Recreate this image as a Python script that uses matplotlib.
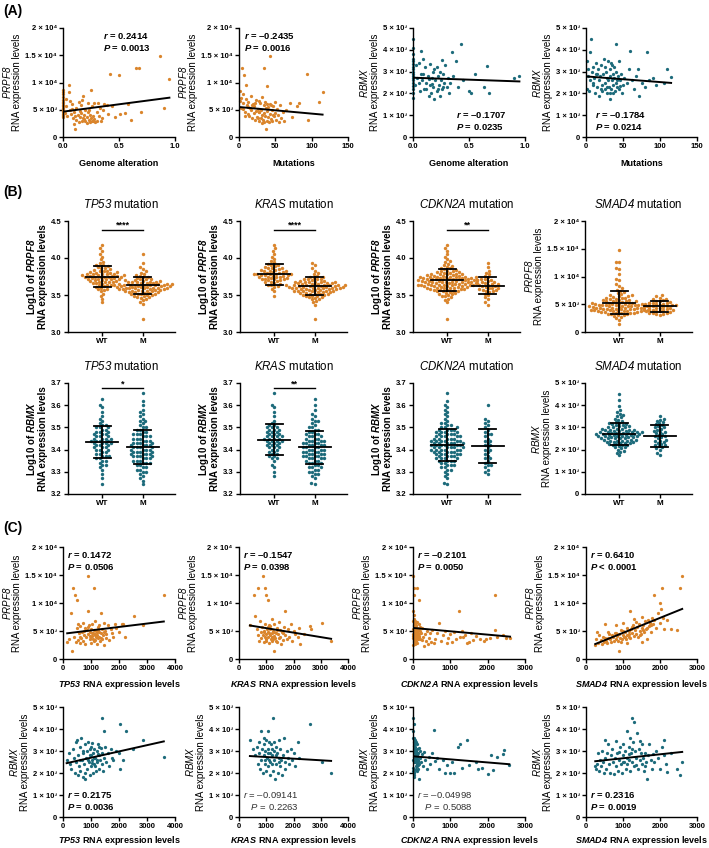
import numpy as np
import matplotlib as mpl
mpl.use('Agg')
import matplotlib.pyplot as plt

plt.rcParams['font.family'] = ['Liberation Sans', 'DejaVu Sans']
plt.rcParams['mathtext.fontset'] = 'custom'
plt.rcParams['mathtext.rm'] = 'Liberation Sans'
plt.rcParams['mathtext.it'] = 'Liberation Sans:italic'
plt.rcParams['mathtext.sf'] = 'Liberation Sans:italic'   # italic incl. digits
plt.rcParams['mathtext.bf'] = 'Liberation Sans:bold'
plt.rcParams['mathtext.bfit'] = 'Liberation Sans:italic:bold'

ORANGE = '#da852c'
TEAL = '#1d6b7b'
W, H = 709, 848

# ---------------- data (expression values in thousands) ----------------
# (A) genome alteration / mutation count vs PRPF8, RBMX
a1_pts = [(0, 3.6), (0, 3.9), (0, 4.1), (0, 4.3), (0, 4.5), (0, 4.7), (0, 4.9), (0, 5.1), (0, 5.3),
          (0, 5.6), (0, 5.9), (0, 6.2), (0, 6.5), (0, 6.8), (0, 7.3), (0, 7.8), (0, 8.3), (0, 8.6),
          (0.02, 4.4), (0.03, 5.6), (0.04, 3.8), (0.05, 9.6), (0.05, 8.3), (0.06, 4.9), (0.07, 4.2),
          (0.08, 6.1), (0.09, 3.5), (0.10, 2.3), (0.10, 4.6), (0.11, 1.5), (0.12, 5.3), (0.12, 3.2),
          (0.13, 4.0), (0.14, 6.4), (0.14, 2.8), (0.15, 3.6), (0.16, 4.4), (0.16, 5.9), (0.17, 2.9),
          (0.18, 3.4), (0.18, 7.6), (0.19, 4.1), (0.20, 3.0), (0.20, 5.0), (0.21, 2.6), (0.21, 3.7),
          (0.22, 4.6), (0.22, 6.3), (0.23, 3.2), (0.24, 2.8), (0.24, 4.0), (0.25, 3.5), (0.25, 8.6),
          (0.26, 5.7), (0.26, 2.9), (0.27, 3.9), (0.28, 6.2), (0.28, 3.3), (0.29, 2.7), (0.30, 4.5),
          (0.30, 3.0), (0.31, 6.3), (0.32, 3.8), (0.33, 5.3), (0.34, 2.9), (0.35, 3.5), (0.36, 4.9),
          (0.37, 6.1), (0.39, 5.9), (0.40, 4.3), (0.42, 11.5), (0.44, 5.6), (0.46, 3.6), (0.50, 11.4),
          (0.51, 4.2), (0.55, 4.4), (0.58, 6.0), (0.61, 3.2), (0.65, 12.7), (0.68, 12.7), (0.70, 4.6),
          (0.87, 14.8), (0.90, 5.3), (0.95, 10.7), (0.03, 7.0), (0.08, 5.2), (0.11, 3.9), (0.15, 4.8),
          (0.19, 3.3), (0.23, 4.9), (0.27, 3.0), (0.17, 6.7), (0.06, 6.6)]
a2_pts = [(2, 8.5), (3, 7.2), (4, 12.7), (5, 6.3), (6, 5.1), (7, 11.3), (8, 4.6), (9, 9.6), (10, 7.0),
          (11, 5.8), (12, 4.2), (13, 6.5), (14, 3.8), (15, 5.4), (16, 7.6), (17, 4.9), (18, 3.4),
          (19, 6.0), (20, 4.4), (21, 5.6), (22, 3.1), (23, 4.8), (24, 6.8), (25, 3.7), (26, 5.2),
          (27, 2.9), (28, 4.5), (29, 6.2), (30, 3.5), (30, 5.0), (31, 2.6), (32, 4.1), (32, 7.4),
          (33, 3.2), (34, 12.7), (34, 5.8), (35, 4.4), (35, 2.8), (36, 6.4), (36, 3.9), (37, 5.3),
          (37, 1.5), (38, 4.7), (38, 3.0), (39, 6.0), (39, 9.4), (40, 3.6), (40, 5.5), (41, 2.7),
          (42, 4.2), (43, 14.8), (43, 6.1), (44, 3.3), (45, 4.9), (46, 2.9), (47, 5.6), (48, 3.8),
          (49, 4.4), (50, 6.5), (51, 3.1), (52, 5.2), (53, 4.0), (55, 2.7), (56, 5.9), (58, 3.5),
          (60, 4.6), (62, 3.0), (65, 5.0), (70, 6.3), (73, 3.6), (80, 5.7), (83, 6.2), (93, 11.5),
          (95, 3.2), (110, 6.5), (115, 8.3), (1, 6.6), (3, 5.3), (6, 7.8), (8, 3.9), (12, 5.5),
          (18, 5.9), (22, 6.3), (27, 4.6), (44, 5.8), (47, 4.0), (26, 3.4), (28, 6.6)]
a3_pts = [(0, 1.8), (0, 2.0), (0, 2.2), (0, 2.35), (0, 2.5), (0, 2.6), (0, 2.7), (0, 2.8), (0, 2.9),
          (0, 3.0), (0, 3.1), (0, 3.2), (0, 3.35), (0, 3.5), (0, 3.6), (0, 3.8), (0, 4.1), (0, 4.5),
          (0.02, 2.4), (0.03, 3.3), (0.04, 2.7), (0.05, 3.4), (0.06, 2.1), (0.07, 3.95), (0.08, 2.6),
          (0.09, 2.9), (0.10, 2.2), (0.11, 3.2), (0.12, 2.5), (0.13, 2.8), (0.14, 1.9), (0.15, 3.35),
          (0.15, 2.4), (0.16, 2.0), (0.17, 2.7), (0.18, 3.0), (0.18, 2.3), (0.19, 1.75), (0.20, 2.6),
          (0.21, 3.2), (0.21, 2.1), (0.22, 2.8), (0.23, 2.4), (0.24, 3.0), (0.24, 1.9), (0.25, 2.6),
          (0.26, 3.55), (0.26, 2.2), (0.27, 2.9), (0.28, 2.5), (0.29, 3.3), (0.30, 2.3), (0.31, 2.7),
          (0.32, 2.0), (0.33, 2.5), (0.35, 3.9), (0.36, 2.8), (0.38, 3.5), (0.40, 2.3), (0.43, 4.25),
          (0.45, 2.6), (0.50, 2.1), (0.52, 2.0), (0.55, 2.9), (0.63, 2.3), (0.66, 3.25), (0.68, 2.0),
          (0.90, 2.7), (0.95, 2.8), (0.05, 2.5), (0.09, 3.6), (0.12, 2.2), (0.17, 2.45), (0.22, 2.2),
          (0.27, 2.3), (0.19, 3.1), (0.14, 2.65), (0.07, 2.9)]
a4_pts = [(1, 2.2), (2, 3.5), (3, 2.8), (4, 2.1), (5, 3.9), (6, 2.6), (7, 4.5), (8, 3.0), (9, 2.4),
          (10, 3.2), (11, 2.7), (12, 2.0), (13, 3.4), (14, 2.9), (15, 2.3), (16, 3.1), (17, 2.6),
          (18, 1.9), (19, 2.8), (20, 3.3), (21, 2.4), (22, 2.1), (23, 2.9), (24, 3.6), (25, 2.5),
          (26, 2.2), (27, 3.0), (28, 2.7), (29, 2.0), (30, 3.5), (30, 2.6), (31, 2.3), (32, 3.1),
          (32, 1.75), (33, 2.8), (34, 3.4), (34, 2.2), (35, 2.6), (35, 3.3), (36, 2.0), (37, 2.9),
          (37, 2.4), (38, 3.2), (38, 2.7), (39, 2.1), (40, 4.25), (40, 2.5), (41, 3.0), (42, 2.3),
          (43, 2.8), (44, 3.5), (45, 2.2), (46, 2.6), (47, 2.9), (48, 2.0), (50, 2.4), (52, 2.7),
          (55, 2.5), (58, 3.1), (60, 3.95), (62, 2.6), (65, 2.2), (68, 2.8), (70, 3.1), (72, 1.9),
          (75, 2.5), (80, 2.3), (82, 3.9), (85, 2.6), (90, 2.7), (95, 2.4), (105, 2.5), (110, 3.1),
          (115, 2.75), (3, 3.1), (10, 2.5), (15, 2.9), (20, 2.2), (25, 3.2), (28, 2.3), (42, 2.6),
          (33, 2.0), (46, 2.35)]

# (B) WT vs mutant groups
b1_wt = [3.40, 3.45, 3.49, 3.52, 3.55, 3.57, 3.58, 3.60, 3.61, 3.62, 3.63, 3.64, 3.65, 3.66, 3.66, 3.67,
         3.68, 3.68, 3.69, 3.70, 3.70, 3.71, 3.71, 3.72, 3.72, 3.73, 3.73, 3.74, 3.74, 3.74, 3.75, 3.75,
         3.75, 3.76, 3.76, 3.76, 3.77, 3.77, 3.78, 3.78, 3.79, 3.79, 3.80, 3.80, 3.81, 3.81, 3.82, 3.83,
         3.84, 3.85, 3.86, 3.87, 3.88, 3.89, 3.90, 3.91, 3.93, 3.95, 3.98, 4.02, 4.05, 4.10, 4.13, 4.17,
         3.64, 3.69, 3.72, 3.77, 3.83, 3.58, 3.67, 3.79]
b1_m = [3.18, 3.38, 3.41, 3.43, 3.45, 3.46, 3.47, 3.48, 3.49, 3.50, 3.50, 3.51, 3.52, 3.52, 3.53, 3.54,
        3.54, 3.55, 3.55, 3.56, 3.56, 3.57, 3.57, 3.58, 3.58, 3.58, 3.59, 3.59, 3.60, 3.60, 3.60, 3.61,
        3.61, 3.61, 3.62, 3.62, 3.62, 3.63, 3.63, 3.63, 3.64, 3.64, 3.64, 3.65, 3.65, 3.65, 3.66, 3.66,
        3.67, 3.67, 3.68, 3.68, 3.69, 3.69, 3.70, 3.70, 3.71, 3.72, 3.73, 3.74, 3.75, 3.76, 3.77, 3.78,
        3.80, 3.82, 3.85, 3.88, 3.93, 4.06, 3.53, 3.57, 3.59, 3.61, 3.63, 3.66, 3.62, 3.64, 3.56, 3.60,
        3.68, 3.58, 3.65, 3.54, 3.71, 3.47, 3.51]
b2_wt = [3.49, 3.55, 3.58, 3.61, 3.63, 3.64, 3.66, 3.67, 3.68, 3.69, 3.70, 3.71, 3.72, 3.72, 3.73, 3.74,
         3.74, 3.75, 3.76, 3.76, 3.77, 3.77, 3.78, 3.78, 3.79, 3.79, 3.80, 3.80, 3.81, 3.81, 3.82, 3.83,
         3.83, 3.84, 3.85, 3.86, 3.87, 3.88, 3.89, 3.90, 3.91, 3.92, 3.94, 3.96, 3.99, 4.02, 4.06, 4.10,
         4.13, 4.17, 3.65, 3.70, 3.75, 3.79, 3.84, 3.71, 3.77, 3.62, 3.87, 3.73]
b2_m = [3.18, 3.36, 3.40, 3.42, 3.44, 3.45, 3.46, 3.47, 3.48, 3.49, 3.50, 3.50, 3.51, 3.52, 3.52, 3.53,
        3.54, 3.54, 3.55, 3.55, 3.56, 3.56, 3.57, 3.57, 3.58, 3.58, 3.58, 3.59, 3.59, 3.60, 3.60, 3.60,
        3.61, 3.61, 3.61, 3.62, 3.62, 3.62, 3.63, 3.63, 3.63, 3.64, 3.64, 3.64, 3.65, 3.65, 3.66, 3.66,
        3.67, 3.67, 3.68, 3.68, 3.69, 3.69, 3.70, 3.71, 3.72, 3.73, 3.74, 3.75, 3.76, 3.78, 3.80, 3.83,
        3.86, 3.90, 3.93, 3.53, 3.57, 3.59, 3.61, 3.63, 3.66, 3.62, 3.64, 3.56, 3.60, 3.68, 3.58, 3.65,
        3.54, 3.71, 3.47, 3.51, 3.49, 3.55, 3.67, 3.72]
b3_wt = [3.18, 3.40, 3.43, 3.45, 3.47, 3.49, 3.50, 3.51, 3.52, 3.53, 3.54, 3.55, 3.55, 3.56, 3.57, 3.57,
         3.58, 3.58, 3.59, 3.59, 3.60, 3.60, 3.61, 3.61, 3.62, 3.62, 3.62, 3.63, 3.63, 3.63, 3.64, 3.64,
         3.64, 3.65, 3.65, 3.65, 3.66, 3.66, 3.66, 3.67, 3.67, 3.67, 3.68, 3.68, 3.68, 3.69, 3.69, 3.69,
         3.70, 3.70, 3.70, 3.70, 3.71, 3.71, 3.71, 3.72, 3.72, 3.72, 3.73, 3.73, 3.73, 3.74, 3.74, 3.74,
         3.75, 3.75, 3.75, 3.76, 3.76, 3.77, 3.77, 3.78, 3.78, 3.79, 3.79, 3.80, 3.80, 3.81, 3.82, 3.83,
         3.84, 3.85, 3.86, 3.87, 3.88, 3.89, 3.90, 3.92, 3.94, 3.96, 3.99, 4.02, 4.05, 4.10, 4.13, 4.17,
         3.56, 3.61, 3.66, 3.71, 3.76, 3.58, 3.63, 3.68, 3.73, 3.78, 3.53, 3.62, 3.69, 3.74, 3.82, 3.64,
         3.67, 3.70, 3.72, 3.60, 3.65, 3.48, 3.57, 3.75, 3.81]
b3_m = [3.37, 3.40, 3.44, 3.47, 3.50, 3.52, 3.54, 3.55, 3.56, 3.57, 3.58, 3.59, 3.60, 3.60, 3.61, 3.62,
        3.62, 3.63, 3.64, 3.65, 3.66, 3.67, 3.68, 3.69, 3.70, 3.71, 3.72, 3.74, 3.76, 3.78, 3.80, 3.83,
        3.88, 3.93, 3.57, 3.65]
b4_wt = [1.5, 2.2, 2.5, 2.7, 2.9, 3.0, 3.1, 3.2, 3.3, 3.4, 3.5, 3.5, 3.6, 3.6, 3.7, 3.7, 3.8, 3.8, 3.9,
         3.9, 4.0, 4.0, 4.1, 4.1, 4.2, 4.2, 4.3, 4.3, 4.4, 4.4, 4.5, 4.5, 4.5, 4.6, 4.6, 4.7, 4.7, 4.8,
         4.8, 4.9, 4.9, 5.0, 5.0, 5.1, 5.1, 5.2, 5.2, 5.3, 5.3, 5.4, 5.5, 5.5, 5.6, 5.7, 5.8, 5.9, 6.0,
         6.1, 6.2, 6.3, 6.4, 6.5, 6.6, 6.8, 7.0, 7.2, 7.4, 7.6, 7.9, 8.3, 8.6, 9.4, 9.6, 10.5, 11.3,
         11.5, 12.6, 12.7, 14.8, 3.4, 3.9, 4.4, 4.9, 5.4, 3.6, 4.1, 4.6, 5.1, 3.8, 4.3, 4.8, 5.6, 6.1,
         3.3, 4.0, 4.7, 5.2, 5.8, 6.6, 4.2, 4.5, 3.7, 5.0]
b4_m = [3.1, 3.2, 3.3, 3.4, 3.5, 3.6, 3.7, 3.8, 3.9, 4.0, 4.1, 4.2, 4.3, 4.4, 4.5, 4.6, 4.6, 4.7, 4.8,
        4.9, 5.0, 5.1, 5.2, 5.3, 5.4, 5.5, 5.6, 5.7, 5.9, 6.0, 6.2, 6.4, 6.6, 3.5, 4.0, 4.4, 4.8, 5.3,
        3.8, 4.2]
b5_wt = [3.245, 3.27, 3.29, 3.31, 3.32, 3.33, 3.34, 3.35, 3.36, 3.37, 3.37, 3.38, 3.39, 3.39, 3.40, 3.40,
         3.41, 3.41, 3.42, 3.42, 3.43, 3.43, 3.43, 3.44, 3.44, 3.44, 3.45, 3.45, 3.45, 3.46, 3.46, 3.47,
         3.47, 3.48, 3.48, 3.49, 3.49, 3.50, 3.50, 3.51, 3.51, 3.52, 3.53, 3.54, 3.55, 3.57, 3.59, 3.60,
         3.63, 3.36, 3.41, 3.46, 3.38, 3.43, 3.48, 3.35, 3.42, 3.47, 3.40, 3.44, 3.33, 3.50, 3.37, 3.45]
b5_m = [3.243, 3.26, 3.27, 3.28, 3.29, 3.30, 3.31, 3.31, 3.32, 3.33, 3.33, 3.34, 3.34, 3.35, 3.35, 3.36,
        3.36, 3.37, 3.37, 3.37, 3.38, 3.38, 3.38, 3.39, 3.39, 3.39, 3.40, 3.40, 3.40, 3.41, 3.41, 3.41,
        3.42, 3.42, 3.42, 3.43, 3.43, 3.43, 3.44, 3.44, 3.45, 3.45, 3.46, 3.46, 3.47, 3.47, 3.48, 3.48,
        3.49, 3.49, 3.50, 3.51, 3.52, 3.53, 3.54, 3.55, 3.56, 3.57, 3.58, 3.60, 3.62, 3.655, 3.35, 3.40,
        3.45, 3.36, 3.41, 3.46, 3.38, 3.43, 3.32, 3.39, 3.44, 3.37, 3.42, 3.47, 3.34, 3.50, 3.30, 3.53]
b6_wt = [3.28, 3.30, 3.32, 3.33, 3.35, 3.36, 3.37, 3.38, 3.38, 3.39, 3.40, 3.40, 3.41, 3.41, 3.42, 3.42,
         3.43, 3.43, 3.44, 3.44, 3.44, 3.45, 3.45, 3.45, 3.46, 3.46, 3.46, 3.47, 3.47, 3.48, 3.48, 3.49,
         3.49, 3.50, 3.50, 3.51, 3.51, 3.52, 3.53, 3.55, 3.57, 3.59, 3.60, 3.655, 3.39, 3.43, 3.47, 3.41,
         3.45, 3.49, 3.37, 3.44, 3.48, 3.42, 3.46, 3.36, 3.50]
b6_m = [3.245, 3.25, 3.27, 3.28, 3.29, 3.30, 3.30, 3.31, 3.32, 3.32, 3.33, 3.33, 3.34, 3.34, 3.35, 3.35,
        3.36, 3.36, 3.36, 3.37, 3.37, 3.37, 3.38, 3.38, 3.38, 3.39, 3.39, 3.39, 3.40, 3.40, 3.40, 3.41,
        3.41, 3.41, 3.42, 3.42, 3.42, 3.43, 3.43, 3.43, 3.44, 3.44, 3.45, 3.45, 3.46, 3.46, 3.47, 3.47,
        3.48, 3.48, 3.49, 3.49, 3.50, 3.51, 3.52, 3.53, 3.54, 3.55, 3.56, 3.58, 3.60, 3.63, 3.35, 3.40,
        3.45, 3.36, 3.41, 3.46, 3.38, 3.43, 3.32, 3.39, 3.44, 3.37, 3.42, 3.47, 3.34, 3.50, 3.31, 3.53,
        3.29, 3.44]
b7_wt = [3.245, 3.25, 3.27, 3.28, 3.29, 3.30, 3.31, 3.31, 3.32, 3.33, 3.33, 3.34, 3.34, 3.35, 3.35, 3.35,
         3.36, 3.36, 3.36, 3.37, 3.37, 3.37, 3.38, 3.38, 3.38, 3.38, 3.39, 3.39, 3.39, 3.39, 3.40, 3.40,
         3.40, 3.40, 3.41, 3.41, 3.41, 3.41, 3.42, 3.42, 3.42, 3.42, 3.43, 3.43, 3.43, 3.43, 3.44, 3.44,
         3.44, 3.44, 3.45, 3.45, 3.45, 3.45, 3.46, 3.46, 3.46, 3.47, 3.47, 3.47, 3.48, 3.48, 3.48, 3.49,
         3.49, 3.49, 3.50, 3.50, 3.51, 3.51, 3.52, 3.52, 3.53, 3.54, 3.55, 3.56, 3.57, 3.58, 3.59, 3.60,
         3.62, 3.655, 3.36, 3.41, 3.46, 3.38, 3.43, 3.48, 3.35, 3.42, 3.47, 3.40, 3.44, 3.33, 3.50, 3.37,
         3.45, 3.39, 3.42, 3.44, 3.40, 3.46, 3.32, 3.49, 3.43, 3.41]
b7_m = [3.29, 3.30, 3.31, 3.32, 3.33, 3.34, 3.35, 3.36, 3.37, 3.38, 3.39, 3.40, 3.41, 3.42, 3.42, 3.43,
        3.44, 3.45, 3.46, 3.47, 3.48, 3.49, 3.50, 3.51, 3.52, 3.53, 3.54, 3.60, 3.36, 3.44, 3.47, 3.40,
        3.33]
b8_wt = [1.75, 1.85, 1.9, 1.95, 2.0, 2.05, 2.1, 2.1, 2.15, 2.2, 2.2, 2.25, 2.25, 2.3, 2.3, 2.35, 2.35,
         2.4, 2.4, 2.4, 2.45, 2.45, 2.5, 2.5, 2.5, 2.55, 2.55, 2.6, 2.6, 2.6, 2.65, 2.65, 2.65, 2.7, 2.7,
         2.7, 2.75, 2.75, 2.75, 2.8, 2.8, 2.8, 2.85, 2.85, 2.9, 2.9, 2.9, 2.95, 2.95, 3.0, 3.0, 3.05,
         3.05, 3.1, 3.1, 3.15, 3.2, 3.2, 3.25, 3.3, 3.35, 3.4, 3.45, 3.5, 3.55, 3.6, 3.7, 3.8, 3.95,
         4.25, 4.5, 2.3, 2.5, 2.7, 2.9, 2.4, 2.6, 2.8, 3.0, 2.2, 2.55, 2.75, 2.95, 2.45, 2.65, 2.85,
         3.15, 2.35, 2.6, 2.7, 2.5, 2.8]
b8_m = [1.75, 1.85, 2.0, 2.05, 2.1, 2.15, 2.2, 2.25, 2.3, 2.35, 2.4, 2.45, 2.5, 2.55, 2.6, 2.65, 2.7,
        2.75, 2.8, 2.85, 2.9, 2.95, 3.0, 3.05, 3.1, 3.15, 3.2, 3.25, 3.3, 3.35, 3.4, 3.5, 2.4, 2.6, 2.8,
        2.2, 3.0]
# mean and SD per group (WT, M), as drawn
b_mean_sd = [[(3.75, 0.145), (3.63, 0.12)], [(3.78, 0.14), (3.62, 0.12)],
             [(3.70, 0.15), (3.625, 0.115)], [(5.3, 2.05), (4.64, 1.0)],
             [(3.434, 0.073), (3.412, 0.077)], [(3.445, 0.069), (3.41, 0.075)],
             [(3.422, 0.073), (3.418, 0.077)], [(2.70, 0.49), (2.63, 0.50)]]
b_sig = ['****', '****', '**', '', '*', '**', '', '']
b_genes = ['TP53', 'KRAS', 'CDKN2A', 'SMAD4']

# (C) driver gene expression vs PRPF8 / RBMX
c1_pts = [(330, 1.5), (150, 3.0), (200, 3.5), (300, 8.3), (350, 12.7), (420, 11.4), (500, 10.5), (400, 4.0),
          (450, 3.1), (500, 5.5), (520, 6.2), (550, 3.4), (580, 4.6), (600, 2.8), (620, 5.9), (650, 3.8),
          (680, 4.9), (700, 6.5), (720, 3.2), (750, 4.3), (780, 5.6), (800, 2.6), (820, 3.9), (850, 5.1),
          (880, 8.6), (900, 14.8), (900, 4.4), (920, 6.0), (950, 3.5), (970, 4.8), (1000, 5.4), (1000, 2.9),
          (1020, 4.1), (1050, 6.3), (1060, 3.6), (1080, 4.7), (1100, 12.6), (1100, 5.2), (1120, 3.3),
          (1140, 4.5), (1150, 6.7), (1170, 3.9), (1180, 5.0), (1200, 2.7), (1220, 4.3), (1240, 5.8),
          (1250, 3.7), (1270, 4.9), (1300, 6.1), (1320, 3.2), (1350, 8.3), (1350, 4.6), (1380, 5.4),
          (1400, 3.5), (1420, 4.2), (1450, 6.4), (1480, 2.5), (1500, 5.0), (1520, 3.8), (1550, 4.4),
          (1600, 6.0), (1650, 3.4), (1700, 5.3), (1750, 4.6), (1800, 3.9), (1850, 6.2), (1900, 5.5),
          (2000, 4.8), (2100, 6.3), (2150, 6.2), (2200, 3.9), (2530, 7.6), (2850, 6.1), (3600, 11.5),
          (600, 4.0), (750, 5.0), (950, 4.1), (1050, 4.6), (1150, 4.2), (1250, 5.1), (1350, 3.8),
          (1450, 4.9), (1000, 3.9), (1100, 4.5), (1200, 4.8), (1300, 4.0), (900, 5.7), (1150, 3.4)]
c2_pts = [(400, 6.0), (550, 11.5), (600, 7.6), (650, 5.3), (700, 12.6), (700, 4.2), (750, 3.3), (780, 6.7),
          (800, 4.8), (820, 3.8), (850, 5.7), (870, 14.8), (880, 4.3), (900, 3.1), (920, 5.0), (950, 6.3),
          (960, 12.7), (980, 3.6), (1000, 11.5), (1000, 4.5), (1020, 5.4), (1050, 10.5), (1050, 3.9),
          (1070, 4.9), (1100, 6.0), (1100, 2.8), (1120, 4.2), (1150, 5.3), (1170, 3.5), (1200, 4.7),
          (1200, 7.1), (1220, 3.2), (1250, 5.0), (1270, 4.1), (1300, 1.5), (1300, 6.2), (1320, 3.7),
          (1350, 4.6), (1380, 5.6), (1400, 3.0), (1420, 4.4), (1450, 6.6), (1480, 3.8), (1500, 5.1),
          (1520, 4.0), (1550, 2.6), (1580, 4.8), (1600, 3.4), (1650, 5.8), (1700, 8.6), (1700, 4.3),
          (1750, 3.6), (1800, 5.4), (1850, 4.0), (1900, 6.3), (1950, 3.2), (2000, 5.0), (2050, 4.4),
          (2150, 3.9), (2200, 5.5), (2250, 2.6), (2400, 4.5), (2600, 5.9), (2650, 5.4), (3050, 6.5),
          (3380, 3.2), (900, 4.9), (1000, 3.3), (1100, 4.6), (1200, 3.9), (1300, 4.9), (1400, 5.2),
          (1150, 5.9), (1250, 3.5), (1050, 5.7), (950, 4.0), (1350, 3.3), (1600, 4.6)]
c3_pts = [(0, 14.8), (30, 12.7), (120, 12.6), (30, 11.4), (170, 10.5), (10, 8.5), (20, 7.8), (40, 7.2),
          (50, 6.8), (60, 6.4), (15, 6.1), (25, 5.9), (35, 5.6), (45, 5.4), (55, 5.2), (65, 5.0), (75, 4.8),
          (85, 4.6), (95, 4.4), (105, 4.2), (115, 4.0), (5, 3.8), (15, 3.6), (25, 3.4), (35, 3.2), (45, 3.0),
          (55, 2.8), (65, 2.6), (75, 5.7), (85, 6.0), (95, 5.3), (105, 4.9), (125, 4.5), (135, 5.1),
          (145, 4.3), (155, 3.9), (165, 5.5), (175, 4.7), (185, 3.5), (195, 5.0), (10, 4.5), (20, 5.0),
          (30, 4.2), (40, 4.8), (50, 3.9), (60, 4.4), (70, 3.7), (80, 5.2), (90, 3.3), (100, 6.6),
          (110, 2.9), (130, 3.6), (150, 6.2), (170, 4.1), (190, 5.8), (5, 2.5), (3, 5.3), (8, 6.8),
          (12, 4.1), (18, 3.1), (210, 4.6), (230, 3.4), (250, 5.5), (280, 4.0), (300, 2.4), (320, 4.4),
          (350, 3.2), (380, 5.0), (400, 2.6), (420, 3.8), (450, 4.6), (480, 3.0), (500, 5.2), (550, 2.8),
          (600, 3.6), (650, 4.7), (700, 6.4), (750, 3.3), (800, 4.2), (850, 5.0), (900, 2.9), (950, 3.7),
          (1000, 4.5), (1050, 3.1), (1100, 4.8), (1150, 3.5), (1220, 8.6), (1250, 4.0), (1300, 5.0),
          (1350, 3.9), (1400, 4.3), (1450, 2.8), (1500, 3.0), (1550, 4.6), (1600, 3.4), (1700, 4.1),
          (1800, 3.6), (1900, 3.3), (1950, 3.5), (2050, 3.7), (2200, 11.5), (2200, 5.2), (2250, 4.0),
          (2400, 4.3), (2500, 3.8), (2600, 3.7)]
c4_pts = [(250, 2.5), (280, 3.6), (300, 4.8), (330, 2.9), (360, 4.3), (400, 3.4), (420, 2.6), (450, 4.0),
          (480, 3.1), (500, 3.8), (520, 6.3), (550, 3.3), (580, 2.8), (600, 3.7), (620, 4.5), (650, 3.5),
          (680, 3.0), (700, 4.2), (720, 3.9), (750, 3.2), (780, 4.6), (800, 3.6), (820, 6.0), (850, 4.1),
          (870, 3.3), (900, 1.5), (900, 4.4), (920, 3.8), (950, 5.2), (970, 3.5), (1000, 4.3), (1000, 6.5),
          (1020, 3.9), (1050, 4.8), (1070, 3.6), (1100, 5.5), (1100, 4.2), (1120, 2.9), (1150, 5.0),
          (1170, 4.4), (1200, 8.6), (1200, 3.8), (1220, 5.3), (1250, 4.7), (1270, 6.0), (1300, 4.1),
          (1300, 7.2), (1320, 5.1), (1350, 4.5), (1380, 5.8), (1400, 3.9), (1420, 6.3), (1450, 5.0),
          (1480, 4.4), (1500, 7.5), (1500, 5.6), (1520, 3.0), (1550, 6.1), (1580, 4.8), (1600, 6.8),
          (1620, 5.4), (1650, 3.6), (1680, 7.0), (1700, 5.9), (1720, 6.5), (1750, 4.9), (1780, 7.3),
          (1800, 6.2), (1850, 11.5), (1850, 6.9), (1900, 5.6), (1950, 8.2), (2000, 10.0), (2000, 6.4),
          (2030, 9.0), (2050, 12.6), (2080, 7.3), (2100, 5.4), (2200, 6.9), (2300, 5.3), (2450, 5.2),
          (2550, 12.7), (2600, 14.8), (600, 4.9), (800, 4.7), (1000, 5.0), (1150, 4.0), (1250, 5.7),
          (1350, 6.6), (1450, 4.2), (1550, 5.2), (1650, 5.5), (1750, 6.0), (950, 3.1), (1050, 4.0)]
c5_pts = [(130, 2.6), (200, 2.9), (250, 2.4), (300, 2.2), (350, 3.1), (400, 2.7), (420, 2.0), (450, 3.4),
          (480, 2.5), (500, 3.5), (520, 1.9), (550, 2.8), (570, 2.3), (600, 3.2), (620, 2.1), (650, 3.6),
          (680, 2.6), (700, 1.8), (720, 2.9), (750, 2.4), (770, 3.3), (800, 2.0), (800, 1.75), (820, 2.7),
          (850, 3.0), (870, 2.2), (900, 3.4), (920, 2.5), (950, 1.9), (970, 2.8), (1000, 3.2), (1000, 2.3),
          (1020, 2.6), (1050, 3.35), (1070, 2.0), (1080, 2.9), (1100, 2.4), (1120, 3.1), (1150, 2.7),
          (1170, 2.1), (1200, 3.0), (1220, 2.5), (1250, 3.3), (1270, 2.2), (1300, 2.8), (1320, 2.6),
          (1350, 3.15), (1380, 2.4), (1400, 4.5), (1400, 2.9), (1430, 2.1), (1450, 3.9), (1460, 2.7),
          (1500, 3.2), (1550, 2.5), (1600, 2.9), (1650, 2.3), (1700, 3.1), (1750, 2.7), (1800, 2.6),
          (1900, 3.0), (2000, 2.9), (2050, 2.2), (2050, 4.25), (2150, 2.6), (2250, 3.9), (2500, 3.1),
          (2850, 3.5), (3600, 2.75), (900, 2.6), (1000, 2.8), (1100, 2.7), (1200, 2.6), (1300, 3.2),
          (950, 3.1), (1150, 2.3), (600, 2.6), (700, 3.0), (1250, 2.85), (1050, 2.45)]
c6_pts = [(400, 3.5), (500, 3.1), (600, 2.8), (650, 3.2), (700, 2.4), (720, 3.4), (750, 2.9), (780, 2.2),
          (800, 3.9), (820, 2.6), (850, 3.1), (870, 2.0), (900, 2.8), (920, 3.3), (950, 2.4), (970, 3.0),
          (1000, 2.1), (1000, 3.5), (1020, 2.7), (1050, 3.9), (1060, 2.3), (1080, 3.1), (1100, 2.6),
          (1120, 1.9), (1150, 2.9), (1170, 3.3), (1200, 2.4), (1220, 2.8), (1250, 4.5), (1250, 2.1),
          (1270, 3.0), (1300, 2.6), (1320, 1.75), (1350, 3.2), (1370, 2.4), (1400, 2.9), (1420, 2.0),
          (1450, 3.5), (1470, 2.7), (1500, 2.3), (1520, 3.1), (1550, 2.6), (1580, 1.9), (1600, 2.8),
          (1650, 3.6), (1680, 2.5), (1700, 2.2), (1750, 3.0), (1800, 2.7), (1850, 2.4), (1900, 3.1),
          (1950, 2.6), (2000, 2.9), (2050, 2.3), (2150, 3.4), (2200, 2.7), (2600, 4.25), (3050, 2.5),
          (3380, 2.0), (900, 3.6), (1100, 3.4), (1300, 3.4), (1150, 2.5), (950, 2.6), (1350, 2.8),
          (1050, 2.9), (1200, 3.1), (1450, 2.5)]
c7_pts = [(0, 4.5), (20, 4.25), (10, 3.9), (5, 3.6), (15, 3.4), (25, 3.25), (35, 3.1), (45, 3.0), (55, 2.9),
          (65, 2.8), (75, 2.7), (85, 2.6), (95, 2.5), (105, 2.4), (115, 2.3), (125, 2.2), (5, 2.1), (15, 2.0),
          (25, 1.9), (35, 1.8), (45, 3.5), (55, 3.3), (65, 3.2), (75, 3.05), (85, 2.95), (95, 2.85),
          (105, 2.75), (115, 2.65), (125, 2.55), (135, 2.45), (145, 2.35), (10, 2.25), (20, 2.15),
          (30, 2.05), (40, 3.6), (50, 2.7), (60, 2.5), (70, 2.3), (80, 3.0), (90, 2.2), (100, 3.1),
          (110, 2.8), (120, 3.3), (130, 2.6), (140, 2.9), (150, 3.15), (160, 2.4), (170, 1.75), (180, 2.7),
          (200, 3.0), (220, 2.5), (250, 2.85), (280, 2.3), (300, 2.95), (330, 2.6), (380, 2.2), (420, 2.75),
          (450, 2.4), (500, 2.9), (550, 3.95), (580, 2.55), (650, 2.7), (700, 2.2), (800, 2.6), (850, 2.0),
          (900, 2.35), (1000, 2.0), (1050, 2.5), (1100, 2.0), (1200, 3.2), (1250, 3.3), (1300, 2.25),
          (1450, 3.5), (1500, 2.35), (1700, 2.5), (1750, 2.2), (1850, 2.25), (2000, 1.95), (2100, 2.8),
          (2150, 2.15), (2250, 2.75), (2400, 2.85), (2450, 3.05), (2580, 2.35), (30, 2.95), (70, 3.4),
          (110, 2.1), (8, 2.6), (18, 2.75), (28, 2.5)]
c8_pts = [(250, 2.3), (280, 2.2), (300, 2.4), (330, 2.9), (350, 2.1), (380, 2.6), (400, 2.3), (420, 3.0),
          (450, 2.5), (480, 2.0), (500, 3.5), (520, 2.7), (550, 2.2), (580, 2.9), (600, 3.3), (620, 2.4),
          (650, 2.0), (680, 2.8), (700, 3.1), (720, 2.5), (750, 1.95), (780, 2.7), (800, 3.45), (820, 2.3),
          (850, 2.9), (870, 2.1), (900, 2.6), (920, 3.2), (950, 2.4), (970, 2.0), (1000, 2.8), (1000, 3.3),
          (1020, 2.5), (1050, 3.0), (1070, 2.2), (1100, 2.7), (1100, 3.9), (1120, 2.4), (1150, 3.2),
          (1170, 2.6), (1200, 2.1), (1200, 3.6), (1220, 2.9), (1240, 4.5), (1250, 2.5), (1270, 3.4),
          (1300, 4.3), (1300, 2.3), (1320, 3.0), (1350, 2.7), (1370, 3.8), (1400, 2.2), (1420, 3.1),
          (1450, 2.6), (1480, 2.9), (1500, 2.4), (1520, 3.3), (1550, 2.7), (1580, 2.1), (1600, 2.9),
          (1620, 2.5), (1650, 1.75), (1680, 2.8), (1700, 3.3), (1750, 2.6), (1780, 2.2), (1800, 2.85),
          (1850, 2.5), (1900, 3.0), (1950, 2.7), (2000, 2.2), (2050, 3.2), (2100, 3.5), (2100, 2.8),
          (2150, 2.4), (2200, 2.05), (2300, 2.9), (2450, 2.2), (2550, 1.9), (2600, 2.5), (1000, 2.5),
          (1150, 2.85), (1250, 3.1), (1350, 2.35), (1450, 3.45), (900, 2.95), (1600, 2.3)]

# linear fit (slope, intercept) and correlation stats per scatter panel
fits = {'a1': (2.7, 4.65), 'a2': (-0.0121, 5.5), 'a3': (-0.18, 2.72), 'a4': (-0.0026, 2.78),
        'c1': (0.00061, 4.5), 'c2': (-0.0008, 6.31), 'c3': (-0.0006, 5.55), 'c4': (0.00267, 2.0),
        'c5': (0.000285, 2.41), 'c6': (-0.000074, 2.80), 'c7': (-0.00014, 2.76), 'c8': (0.00018, 2.49)}
stats_r = {'a1': '0.2414', 'a2': '–0.2435', 'a3': '–0.1707', 'a4': '–0.1784',
           'c1': '0.1472', 'c2': '–0.1547', 'c3': '–0.2101', 'c4': '0.6410',
           'c5': '0.2175', 'c6': '–0.09141', 'c7': '–0.04998', 'c8': '0.2316'}
stats_p = {'a1': '= 0.0013', 'a2': '= 0.0016', 'a3': '= 0.0235', 'a4': '= 0.0214',
           'c1': '= 0.0506', 'c2': '= 0.0398', 'c3': '= 0.0050', 'c4': '< 0.0001',
           'c5': '= 0.0036', 'c6': '= 0.2263', 'c7': '= 0.5088', 'c8': '= 0.0019'}

PRPF8_TICKS = ([0, 5, 10, 15, 20], ['0', '5 × 10³', '1 × 10⁴', '1.5 × 10⁴', '2 × 10⁴'])
RBMX_TICKS = ([0, 1, 2, 3, 4, 5], ['0', '1 × 10³', '2 × 10³', '3 × 10³', '4 × 10³', '5 × 10³'])

TICK_FS = 5.5
YLAB_FS = 7


def it(s):
    return r'$\mathsf{' + s + '}$'


def bit(s):
    return r'$\mathbfit{' + s + '}$'


def axes_at(fig, left, top, right, bottom):
    return fig.add_axes([left / W, 1 - bottom / H, (right - left) / W, (bottom - top) / H])


def base_style(ax):
    for s in ('top', 'right'):
        ax.spines[s].set_visible(False)
    for s in ('left', 'bottom'):
        ax.spines[s].set_linewidth(1.0)
    ax.tick_params(length=3, width=1.0, pad=1.5)


def scatter_panel(ax, key, pts, color, gene, yticks, xlim, xticks, xlabels, stat_pos, stat_va, bold=True):
    x, y = np.array(pts).T
    base_style(ax)
    ax.scatter(x, y, s=5.5, c=color, linewidths=0, clip_on=False, zorder=2)
    slope, icpt = fits[key]
    xs = np.array([x.min(), x.max()])
    ax.plot(xs, slope * xs + icpt, color='black', lw=1.4, zorder=3)
    ax.set_xlim(*xlim)
    ax.set_ylim(yticks[0][0], yticks[0][-1])
    ax.set_xticks(xticks, xlabels, fontsize=TICK_FS, fontweight='bold')
    ax.set_yticks(yticks[0], yticks[1], fontsize=TICK_FS, fontweight='bold')
    ax.set_ylabel(it(gene) + '\nRNA expression levels', fontsize=YLAB_FS, labelpad=2, linespacing=0.95)
    if bold:
        txt = bit('r') + ' = ' + stats_r[key] + '\n' + bit('P') + ' ' + stats_p[key]
        ax.text(stat_pos[0], stat_pos[1], txt, transform=ax.transAxes, fontsize=6.8,
                fontweight='bold', va=stat_va, ha='left', linespacing=1.25)
    else:
        txt = it('r') + ' = ' + stats_r[key] + '\n' + '   ' + it('P') + ' ' + stats_p[key]
        ax.text(stat_pos[0], stat_pos[1], txt, transform=ax.transAxes, fontsize=6.8,
                color='#333333', va=stat_va, ha='left', linespacing=1.25)


def swarm_offsets(vals, px_per_y, d=3.3, step=0.5):
    offs = np.zeros(len(vals))
    placed = []
    cands = sorted(np.arange(-30, 30.01, step), key=lambda c: (abs(c), c))
    for i in np.argsort(vals):
        yp = vals[i] * px_per_y
        near = [(py, px) for py, px in placed if abs(py - yp) < d]
        for c in cands:
            if all((c - px) ** 2 + (yp - py) ** 2 >= d * d for py, px in near):
                break
        offs[i] = c
        placed.append((yp, c))
    return offs


def swarm_panel(ax, groups, mean_sd, color, ylim, yticks, ylabels, ylabel, sig, sig_y, title, px_box):
    base_style(ax)
    xlim = (-0.85, 1.8)
    ax.set_xlim(*xlim)
    ax.set_ylim(*ylim)
    w_px = px_box[2] - px_box[0]
    h_px = px_box[3] - px_box[1]
    px_per_y = h_px / (ylim[1] - ylim[0])
    px_per_x = w_px / (xlim[1] - xlim[0])
    for i, vals in enumerate(groups):
        vals = np.array(vals)
        offs = swarm_offsets(vals, px_per_y)
        ax.scatter(i + offs / px_per_x, vals, s=6, c=color, linewidths=0, zorder=2, clip_on=False)
        m, sd = mean_sd[i]
        ax.plot([i - 0.4, i + 0.4], [m, m], color='black', lw=1.3, zorder=3)
        ax.plot([i, i], [m - sd, m + sd], color='black', lw=1.3, zorder=3)
        for yy in (m - sd, m + sd):
            ax.plot([i - 0.21, i + 0.21], [yy, yy], color='black', lw=1.3, zorder=3)
    ax.set_xticks([0, 1], ['WT', 'M'], fontsize=TICK_FS + 0.3, fontweight='bold')
    ax.set_yticks(yticks, ylabels, fontsize=TICK_FS, fontweight='bold')
    ax.set_ylabel(ylabel, fontsize=YLAB_FS, labelpad=2, linespacing=0.95)
    ax.set_title(title, fontsize=8.3, pad=9)
    if sig:
        ax.plot([0, 1], [sig_y, sig_y], color='black', lw=1.0, clip_on=False)
        ax.text(0.5, sig_y, sig, ha='center', va='bottom', fontsize=6.5, fontweight='bold')


fig = plt.figure(figsize=(W / 100, H / 100), dpi=100)

scatter_cols = [(63, 175), (239, 348), (413, 525), (586, 697)]
swarm_cols = [(68, 175), (240, 347), (413, 520), (585, 692)]

# ---- (A)
a_specs = [('a1', a1_pts, ORANGE, 'PRPF8', PRPF8_TICKS, (0, 1), [0, 0.5, 1.0], ['0.0', '0.5', '1.0'],
            'Genome alteration', (0.36, 0.97), 'top'),
           ('a2', a2_pts, ORANGE, 'PRPF8', PRPF8_TICKS, (0, 150), [0, 50, 100, 150], ['0', '50', '100', '150'],
            'Mutations', (0.05, 0.97), 'top'),
           ('a3', a3_pts, TEAL, 'RBMX', RBMX_TICKS, (0, 1), [0, 0.5, 1.0], ['0.0', '0.5', '1.0'],
            'Genome alteration', (0.38, 0.05), 'bottom'),
           ('a4', a4_pts, TEAL, 'RBMX', RBMX_TICKS, (0, 150), [0, 50, 100, 150], ['0', '50', '100', '150'],
            'Mutations', (0.08, 0.05), 'bottom')]
for (l, r), spec in zip(scatter_cols, a_specs):
    key, pts, col, gene, yt, xl, xt, xtl, xlab, spos, sva = spec
    ax = axes_at(fig, l, 28, r, 137)
    scatter_panel(ax, key, pts, col, gene, yt, xl, xt, xtl, spos, sva)
    ax.set_xlabel(xlab, fontsize=6.5, fontweight='bold', labelpad=6)

# ---- (B)
b_groups = [(b1_wt, b1_m), (b2_wt, b2_m), (b3_wt, b3_m), (b4_wt, b4_m),
            (b5_wt, b5_m), (b6_wt, b6_m), (b7_wt, b7_m), (b8_wt, b8_m)]
for k in range(8):
    row, colx = divmod(k, 4)
    l, r = swarm_cols[colx]
    top, bot = (221, 332) if row == 0 else (383, 494)
    ax = axes_at(fig, l, top, r, bot)
    gene = b_genes[colx]
    target = 'PRPF8' if row == 0 else 'RBMX'
    color = ORANGE if row == 0 else TEAL
    title = it(gene) + ' mutation'
    if colx == 3:
        yt = PRPF8_TICKS if row == 0 else RBMX_TICKS
        ylim = (yt[0][0], yt[0][-1])
        ylab = it(target) + '\nRNA expression levels'
        swarm_panel(ax, b_groups[k], b_mean_sd[k], color, ylim, yt[0], yt[1], ylab, '', 0, title,
                    (l, top, r, bot))
    else:
        if row == 0:
            ylim, yt = (3.0, 4.5), [3.0, 3.5, 4.0, 4.5]
            sig_y = 4.385
        else:
            ylim, yt = (3.2, 3.7), [3.2, 3.3, 3.4, 3.5, 3.6, 3.7]
            sig_y = 3.677
        ylab = 'Log10 of ' + bit(target) + '\nRNA expression levels'
        swarm_panel(ax, b_groups[k], b_mean_sd[k], color, ylim, yt, [f'{v:.1f}' for v in yt], ylab,
                    b_sig[k], sig_y, title, (l, top, r, bot))
        ax.yaxis.label.set_fontweight('bold')

# ---- (C)
c_genes = ['TP53', 'KRAS', 'CDKN2A', 'SMAD4']
c_pts = [c1_pts, c2_pts, c3_pts, c4_pts, c5_pts, c6_pts, c7_pts, c8_pts]
for k in range(8):
    row, colx = divmod(k, 4)
    l, r = scatter_cols[colx]
    top, bot = (547, 659) if row == 0 else (707, 817)
    ax = axes_at(fig, l, top, r, bot)
    key = f'c{k + 1}'
    if colx < 2:
        xl, xt = (0, 4000), [0, 1000, 2000, 3000, 4000]
    else:
        xl, xt = (0, 3000), [0, 1000, 2000, 3000]
    if row == 0:
        scatter_panel(ax, key, c_pts[k], ORANGE, 'PRPF8', PRPF8_TICKS, xl, xt, [str(v) for v in xt],
                      (0.04, 0.97), 'top')
    else:
        scatter_panel(ax, key, c_pts[k], TEAL, 'RBMX', RBMX_TICKS, xl, xt, [str(v) for v in xt],
                      (0.04, 0.05), 'bottom', bold=key not in ('c6', 'c7'))
    ax.set_xlabel(bit(c_genes[colx]) + ' RNA expression levels', fontsize=6.5,
                  fontweight='bold', labelpad=4 if row == 0 else 3)

for lab, ypx in (('(A)', 4), ('(B)', 185), ('(C)', 521)):
    fig.text(3 / W, 1 - ypx / H, lab, fontsize=10, fontweight='bold', va='top', ha='left')

fig.savefig('out.png', dpi=100)
